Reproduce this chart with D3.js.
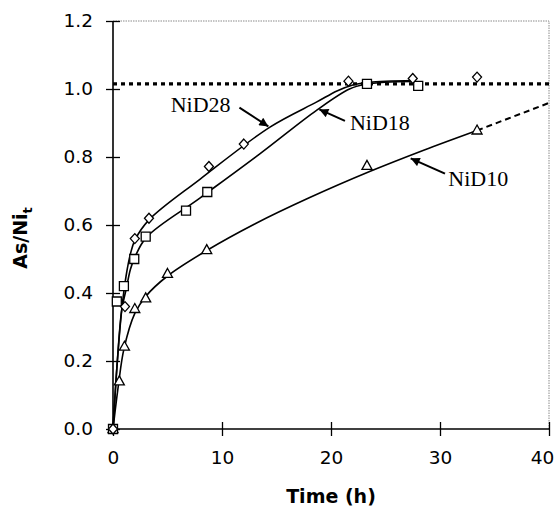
<!DOCTYPE html>
<html>
<head>
<meta charset="utf-8">
<script src="https://d3js.org/d3.v7.min.js"></script>
<style>
  body { margin: 0; background: #fff; }
  text { font-family: "DejaVu Sans", Arial, sans-serif; }
</style>
</head>
<body>
<div id="chart"></div>
<script>
// measured points
var nid28Time = [0, 1.1, 2.0, 3.3, 8.8, 12.0, 21.6, 27.5, 33.4];
var nid28Ratio = [0, 0.36, 0.56, 0.62, 0.772, 0.838, 1.023, 1.031, 1.035];

var nid18Time = [0, 0.35, 1.0, 1.95, 3.0, 6.7, 8.65, 23.3, 28.0];
var nid18Ratio = [0, 0.375, 0.42, 0.5, 0.566, 0.642, 0.697, 1.015, 1.009];

var nid10Time = [0, 0.58, 1.05, 2.0, 3.0, 5.0, 8.6, 23.3, 33.4];
var nid10Ratio = [0, 0.14, 0.242, 0.353, 0.384, 0.456, 0.526, 0.774, 0.878];

// fitted curves
var fit28Time = [0, 0.4, 0.8, 1.2, 1.6, 2.0, 3.3, 8, 14.4, 18.7, 20.6, 22, 23.5, 27.5];
var fit28Ratio = [0, 0.2, 0.35, 0.45, 0.515, 0.555, 0.615, 0.735, 0.888, 0.962, 0.995, 1.012, 1.02, 1.025];

var fit18Time = [0, 0.4, 0.8, 1.2, 1.6, 2.0, 3.1, 8, 13.5, 18.7, 21.7, 23.2, 25, 27.5];
var fit18Ratio = [0, 0.2, 0.35, 0.41, 0.47, 0.505, 0.565, 0.68, 0.81, 0.938, 1.0, 1.014, 1.02, 1.022];

var fit10Time = [0, 0.5, 1, 2, 3, 5, 8.6, 13, 18, 23.6, 28.5, 33.4];
var fit10Ratio = [0, 0.13, 0.235, 0.34, 0.39, 0.45, 0.525, 0.603, 0.68, 0.758, 0.82, 0.878];

var extTime = [33.4, 40];
var extRatio = [0.878, 0.959];

var plateauTime = [0, 40];
var plateauRatio = [1.015, 1.015];

var xTicks = [0, 10, 20, 30, 40];
var yTicks = [0, 0.2, 0.4, 0.6, 0.8, 1.0, 1.2];

var labelNames = ["NiD28", "NiD18", "NiD10"];

var svgWidth = 559;
var svgHeight = 509;

var margin = { top: 21, right: 10, bottom: 80, left: 113 };
var width = 436;
var height = 408;

var svg = d3.select("#chart")
    .append("svg")
    .attr("width", svgWidth)
    .attr("height", svgHeight);

var defs = svg.append("defs");
defs.append("marker")
    .attr("id", "arrow")
    .attr("viewBox", "0 0 10 10")
    .attr("refX", 10)
    .attr("refY", 5)
    .attr("markerWidth", 5)
    .attr("markerHeight", 4.5)
    .attr("markerUnits", "strokeWidth")
    .attr("orient", "auto")
  .append("path")
    .attr("d", "M0,0 L10,5 L0,10 Z")
    .attr("fill", "#000");

var chartGroup = svg.append("g")
    .attr("transform", `translate(${margin.left}, ${margin.top})`);

var xScale = d3.scaleLinear().domain([0, 40]).range([0, width]);
var yScale = d3.scaleLinear().domain([0, 1.2]).range([height, 0]);

function zip(xs, ys) {
    return xs.map((x, i) => [x, ys[i]]);
}

// frame (top and right, dotted grey)
chartGroup.append("path")
    .attr("d", `M0,0 H${width} V${height}`)
    .attr("fill", "none")
    .attr("stroke", "#8a8a8a")
    .attr("stroke-width", 1)
    .attr("stroke-dasharray", "1.5,1");

// axes
var leftAxis = d3.axisLeft(yScale)
    .tickValues(yTicks)
    .tickFormat(d3.format(".1f"))
    .tickSize(7)
    .tickPadding(13);

var bottomAxis = d3.axisBottom(xScale)
    .tickValues(xTicks)
    .tickFormat(d3.format("d"))
    .tickSize(7)
    .tickPadding(15);

var yAxis = chartGroup.append("g").call(leftAxis);
var xAxis = chartGroup.append("g")
    .attr("transform", `translate(0, ${height})`)
    .call(bottomAxis);

[xAxis, yAxis].forEach(function (ax) {
    ax.select(".domain").attr("stroke", "#000").attr("stroke-width", 1.6);
    ax.selectAll(".tick line").attr("stroke", "#000").attr("stroke-width", 1.3);
    ax.selectAll(".tick text")
        .attr("fill", "#000")
        .style("font-size", "18.5px")
        .style("font-family", "'DejaVu Sans', Arial, sans-serif");
});
yAxis.selectAll(".tick line").attr("x1", 7);
xAxis.selectAll(".tick line").attr("y1", -7);
yAxis.select(".domain").attr("d", `M0,0V${height}`);
xAxis.select(".domain").attr("d", `M0,0H${width}`);
// last x label sits against the right edge
xAxis.selectAll(".tick text").filter(d => d === 40).attr("dx", -7);

var line = d3.line()
    .x(d => xScale(d[0]))
    .y(d => yScale(d[1]))
    .curve(d3.curveCatmullRom.alpha(0.5));

// plateau dotted line
chartGroup.append("path")
    .datum(zip(plateauTime, plateauRatio))
    .attr("d", d3.line().x(d => xScale(d[0])).y(d => yScale(d[1])))
    .attr("fill", "none")
    .attr("stroke", "#000")
    .attr("stroke-width", 3.2)
    .attr("stroke-dasharray", "4,4");

// fitted curves
[[fit28Time, fit28Ratio], [fit18Time, fit18Ratio], [fit10Time, fit10Ratio]].forEach(function (f) {
    chartGroup.append("path")
        .datum(zip(f[0], f[1]))
        .attr("d", line)
        .attr("fill", "none")
        .attr("stroke", "#000")
        .attr("stroke-width", 1.6);
});

chartGroup.append("path")
    .datum(zip(extTime, extRatio))
    .attr("d", line)
    .attr("fill", "none")
    .attr("stroke", "#000")
    .attr("stroke-width", 2)
    .attr("stroke-dasharray", "6,4");

// markers
var diamond = "M0,-5 L4.5,0 L0,5 L-4.5,0 Z";
var square = "M-4.5,-4.5 H4.5 V4.5 H-4.5 Z";
var triangle = "M0,-5.5 L5,3.5 L-5,3.5 Z";

function drawPoints(xs, ys, shape) {
    chartGroup.append("g")
        .selectAll("path")
        .data(zip(xs, ys))
        .enter()
        .append("path")
        .attr("d", shape)
        .attr("transform", d => `translate(${xScale(d[0])}, ${yScale(d[1])})`)
        .attr("fill", "#fff")
        .attr("stroke", "#000")
        .attr("stroke-width", 1.3);
}

drawPoints(nid10Time, nid10Ratio, triangle);
drawPoints(nid18Time, nid18Ratio, square);
drawPoints(nid28Time, nid28Ratio, diamond);

// series labels with arrows (data coords)
var notes = [
    { text: labelNames[0], tx: 5.29, ty: 0.932, ax: 11.6, ay: 0.945, bx: 14.25, by: 0.89 },
    { text: labelNames[1], tx: 21.74, ty: 0.879, ax: 21.28, ay: 0.906, bx: 18.93, by: 0.94 },
    { text: labelNames[2], tx: 30.76, ty: 0.714, ax: 30.46, ay: 0.751, bx: 27.31, by: 0.796 }
];

notes.forEach(function (n) {
    chartGroup.append("text")
        .attr("x", xScale(n.tx))
        .attr("y", yScale(n.ty))
        .style("font-family", "'Liberation Serif', 'Times New Roman', serif")
        .style("font-size", "22px")
        .attr("fill", "#000")
        .text(n.text);
    chartGroup.append("line")
        .attr("x1", xScale(n.ax))
        .attr("y1", yScale(n.ay))
        .attr("x2", xScale(n.bx))
        .attr("y2", yScale(n.by))
        .attr("stroke", "#000")
        .attr("stroke-width", 2)
        .attr("marker-end", "url(#arrow)");
});

// axis titles
svg.append("text")
    .attr("x", margin.left + width / 2)
    .attr("y", 503)
    .attr("text-anchor", "middle")
    .style("font-size", "19px")
    .style("font-weight", "bold")
    .attr("fill", "#000")
    .text("Time (h)");

var yTitle = svg.append("text")
    .attr("transform", "translate(27, 238) rotate(-90)")
    .attr("text-anchor", "middle")
    .style("font-size", "19px")
    .style("font-weight", "bold")
    .attr("fill", "#000");
yTitle.append("tspan").text("As/Ni");
yTitle.append("tspan")
    .attr("dy", 5)
    .style("font-size", "13px")
    .text("t");
</script>
</body>
</html>
